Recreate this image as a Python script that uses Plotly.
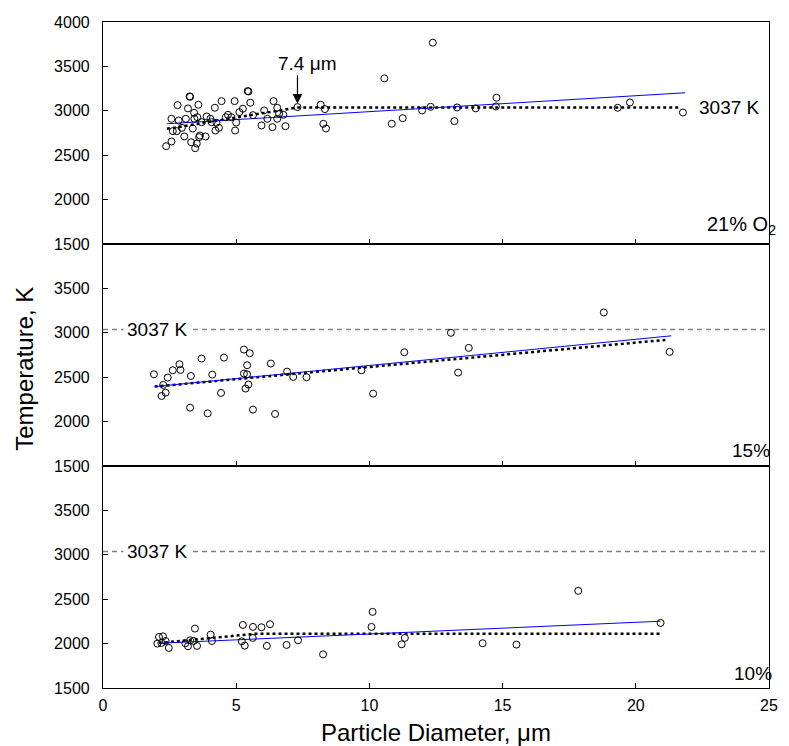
import plotly.graph_objects as go

# ---------------- data ----------------
# 21% O2 panel
d21_x = [2.37, 2.57, 2.57, 2.80, 2.62, 2.77, 2.84, 2.96, 3.05, 3.11, 3.19, 3.25, 3.27, 3.31,
         3.37, 3.42, 3.46, 3.52, 3.43, 3.54, 3.58, 3.61, 3.64, 3.70, 3.85, 3.89, 4.03, 4.08,
         4.20, 4.22, 4.26, 4.35, 4.45, 4.61, 4.69, 4.82, 4.94, 4.96, 5.00, 5.12, 5.25, 5.43,
         5.46, 5.53, 5.63, 5.95, 6.05, 6.17, 6.36, 6.40, 6.54, 6.54, 6.61, 6.77, 6.85, 7.30,
         8.17, 8.33, 8.27, 8.37, 10.56, 12.38, 10.84, 11.25, 11.98, 12.30, 13.19, 13.29, 13.99,
         14.77, 14.75, 19.32, 19.78, 21.77]
d21_T = [2601, 2654, 2910, 3064, 2771, 2771, 2891, 2808, 2711, 2910, 3027, 3162, 3158, 2646,
         2801, 2977, 2579, 2631, 2910, 2928, 3068, 2703, 2722, 2872, 2711, 2936, 2910, 2872,
         3034, 2778, 2865, 2808, 3109, 2928, 2955, 2928, 3109, 2778, 2868, 2985, 3023, 3222,
         3218, 3091, 2951, 2835, 3004, 2910, 2816, 3109, 3034, 2910, 2966, 2955, 2827, 3042,
         3068, 3019, 2853, 2801, 3365, 3767, 2854, 2917, 3004, 3045, 2884, 3038, 3027,
         3147, 3049, 3034, 3094, 2981]
fit21_x = [2.40, 21.85]
fit21_T = [2854, 3203]
mean21_x = [2.40, 7.30, 21.60]
mean21_T = [2797, 3037, 3037]

# 15% O2 panel
d15_x = [1.91, 2.20, 2.26, 2.35, 2.43, 2.62, 2.87, 2.91, 3.27, 3.30, 3.70, 3.93, 4.10, 4.43,
         4.54, 5.29, 5.51, 5.41, 5.29, 5.41, 5.46, 5.35, 5.63, 6.30, 6.46, 6.91, 7.14, 7.64,
         9.70, 10.14, 11.31, 13.06, 13.33, 13.73, 18.80, 21.27]
d15_T = [2533, 2289, 2413, 2326, 2496, 2578, 2646, 2582, 2157, 2514, 2710, 2093, 2529, 2323,
         2721, 2811, 2770, 2635, 2541, 2533, 2417, 2372, 2135, 2654, 2086, 2563, 2503, 2500,
         2578, 2315, 2781, 3000, 2552, 2830, 3229, 2785]
fit15_x = [1.94, 21.33]
fit15_T = [2394, 2966]
mean15_x = [1.94, 21.11]
mean15_T = [2394, 2920]

# 10% O2 panel
d10_x = [2.04, 2.10, 2.25, 2.19, 2.35, 2.47, 3.09, 3.19, 3.27, 3.40, 3.45, 3.53, 4.04, 4.09,
         5.21, 5.25, 5.32, 5.62, 5.63, 5.95, 6.15, 6.27, 6.89, 7.32, 8.26, 10.12, 10.08,
         11.33, 11.21, 14.25, 15.52, 17.84, 20.93]
d10_T = [2000, 2075, 2082, 2007, 2029, 1951, 2004, 1970, 2037, 2029, 2169, 1974, 2101, 2029,
         2026, 2210, 1977, 2064, 2188, 2184, 1974, 2218, 1985, 2037, 1879, 2357, 2188,
         2064, 1992, 2004, 1989, 2594, 2233]
fit10_x = [2.10, 20.93]
fit10_T = [2004, 2252]
mean10_x = [2.10, 5.70, 20.93]
mean10_T = [2007, 2110, 2110]

ref_T = 3037
ref_x = [0, 25]
x_ticks = [0, 5, 10, 15, 20, 25]
y_ticks_top = [1500, 2000, 2500, 3000, 3500, 4000]
y_ticks = [1500, 2000, 2500, 3000, 3500]
panel_labels = ["21% O<sub>2</sub>", "15%", "10%"]

FONT = "Liberation Sans, Arial, sans-serif"

fig = go.Figure()

panels = [
    (d21_x, d21_T, fit21_x, fit21_T, mean21_x, mean21_T, "x", "y"),
    (d15_x, d15_T, fit15_x, fit15_T, mean15_x, mean15_T, "x2", "y2"),
    (d10_x, d10_T, fit10_x, fit10_T, mean10_x, mean10_T, "x3", "y3"),
]

for i, (dx, dT, fx, fT, mx, mT, xa, ya) in enumerate(panels):
    if i > 0:
        fig.add_trace(go.Scatter(x=ref_x, y=[ref_T, ref_T], mode="lines",
                                 line=dict(color="#808080", width=1.3, dash="5px,4px"),
                                 xaxis=xa, yaxis=ya, showlegend=False, hoverinfo="skip"))
    fig.add_trace(go.Scatter(x=mx, y=mT, mode="lines",
                             line=dict(color="black", width=2.5, dash="3px,3px"),
                             xaxis=xa, yaxis=ya, showlegend=False))
    fig.add_trace(go.Scatter(x=fx, y=fT, mode="lines",
                             line=dict(color="#0000FF", width=1),
                             xaxis=xa, yaxis=ya, showlegend=False))
    fig.add_trace(go.Scatter(x=dx, y=dT, mode="markers",
                             marker=dict(symbol="circle-open", size=7, color="black",
                                         line=dict(width=1, color="black")),
                             xaxis=xa, yaxis=ya, showlegend=False))

axis_common = dict(showline=True, linecolor="black", linewidth=1.2, mirror=True,
                   ticks="inside", tickcolor="black", ticklen=5, tickwidth=1,
                   showgrid=False, zeroline=False,
                   tickfont=dict(family=FONT, size=16, color="black"))

domains = [[2/3, 1], [1/3, 2/3], [0, 1/3]]
for i in range(3):
    sx = "" if i == 0 else str(i + 1)
    fig.update_layout({
        "xaxis" + sx: dict(axis_common, range=[0, 25], tickvals=x_ticks,
                           anchor="y" + sx, domain=[0, 1],
                           showticklabels=(i == 2),
                           matches=None if i == 2 else "x3",
                           ticklabelstandoff=3),
        "yaxis" + sx: dict(axis_common, range=[1500, 4000],
                           tickvals=y_ticks_top if i == 0 else y_ticks,
                           anchor="x" + sx, domain=domains[i],
                           ticklabelstandoff=9),
    })

label_sizes = [20, 19, 19]
label_xshift = [9, 3, 5]
label_yshift = [4, 3, 2]

annotations = []
for i in range(3):
    sx = "" if i == 0 else str(i + 1)
    annotations.append(dict(text=panel_labels[i], xref="x" + sx + " domain", yref="y" + sx + " domain",
                            x=1, y=0, xanchor="right", yanchor="bottom", showarrow=False,
                            xshift=label_xshift[i], yshift=label_yshift[i],
                            font=dict(family=FONT, size=label_sizes[i], color="black")))
    if i > 0:
        annotations.append(dict(text="3037 K", xref="x" + sx, yref="y" + sx, x=2.03, y=ref_T,
                                showarrow=False, bgcolor="white", borderpad=3,
                                font=dict(family=FONT, size=19, color="black")))

annotations.append(dict(text="3037 K", xref="x", yref="y", x=22.3, y=ref_T, xanchor="left",
                        showarrow=False, font=dict(family=FONT, size=19, color="black")))
# arrow for the 7.4 um break point
annotations.append(dict(text="", xref="x", yref="y", x=mean21_x[1], y=3080,
                        showarrow=True, arrowhead=2, arrowsize=1.6, arrowwidth=1.2,
                        arrowcolor="black", ax=0, ay=-30))
annotations.append(dict(text="7.4 \u03bcm", xref="x", yref="y", x=mean21_x[1], y=3080,
                        xshift=10, yshift=40, showarrow=False,
                        font=dict(family=FONT, size=19, color="black")))
# axis titles
annotations.append(dict(text="Particle Diameter, \u03bcm", xref="paper", yref="paper",
                        x=0.5, y=-0.067, xanchor="center", yanchor="middle", showarrow=False,
                        font=dict(family=FONT, size=24, color="black")))
annotations.append(dict(text="Temperature, K", xref="paper", yref="paper",
                        x=-0.118, y=0.48, xanchor="center", yanchor="middle", textangle=-90,
                        showarrow=False, font=dict(family=FONT, size=24, color="black")))

fig.update_layout(
    width=789, height=746,
    margin=dict(l=103, r=11, t=22, b=58),
    plot_bgcolor="white", paper_bgcolor="white",
    showlegend=False,
    annotations=annotations,
    font=dict(family=FONT, color="black"),
)

fig.write_html("out.html", config={"displayModeBar": False},
               post_script="document.body.style.margin='0';document.body.style.overflow='hidden';")
